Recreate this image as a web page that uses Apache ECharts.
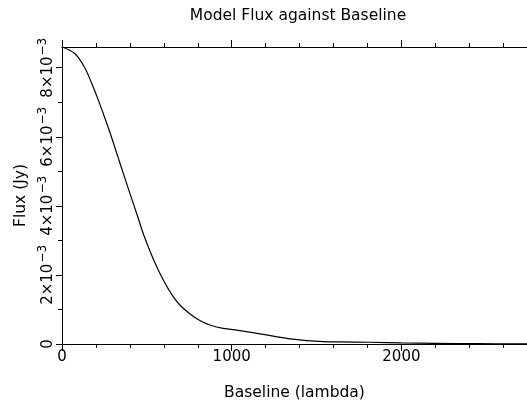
<!DOCTYPE html>
<html>
<head>
<meta charset="utf-8">
<script src="https://cdn.jsdelivr.net/npm/echarts@6/dist/echarts.min.js"></script>
<style>
html,body{margin:0;padding:0;background:#fff;}
#chart{width:527px;height:409px;}
</style>
</head>
<body>
<div id="chart"></div>
<script>
// Data
var baseline = [0, 75, 134, 173, 212, 252, 291, 330, 370, 405, 440, 480, 537, 596, 655, 700, 755, 812, 871, 950, 1048, 1147, 1245, 1343, 1442, 1540, 1638, 1815, 2000, 2200, 2450, 2740];
var flux = [0.00860, 0.00841, 0.00800, 0.00757, 0.00709, 0.00655, 0.00600, 0.00541, 0.00481, 0.00429, 0.00378, 0.00318, 0.00247, 0.00186, 0.00137, 0.00110, 0.00087, 0.00068, 0.00055, 0.00045, 0.00039, 0.00031, 0.00023, 0.00015, 0.00010, 0.00007, 0.00006, 0.00005, 0.00003, 0.00002, 0.00001, 0.000005];
var xMajorTicks = [0, 1000, 2000];
var xMinorTicks = [200, 400, 600, 800, 1200, 1400, 1600, 1800, 2200, 2400, 2600];
var yMajorTicks = [0, 0.002, 0.004, 0.006, 0.008];
var yMinorTicks = [0.001, 0.003, 0.005, 0.007];
var xMin = 0, xMax = 2740, yMin = 0, yMax = 0.0086;

var FONT = 'DejaVu Sans';
var lineStyle = {color: '#000', width: 1};

function xAxisDef(pos, ticks, len, labels, showLine) {
  return {
    type: 'value', position: pos, min: xMin, max: xMax,
    axisLine: {show: showLine, onZero: false, lineStyle: lineStyle},
    axisTick: {show: true, inside: false, length: len, customValues: ticks, lineStyle: lineStyle},
    axisLabel: labels ? {show: true, customValues: ticks, color: '#000', fontFamily: FONT, fontSize: 15, margin: 6,
      formatter: function (v) { return String(Math.round(v)); }} : {show: false},
    splitLine: {show: false}
  };
}
function yAxisDef(ticks, len, labels, showLine) {
  return {
    type: 'value', position: 'left', min: yMin, max: yMax,
    axisLine: {show: showLine, onZero: false, lineStyle: lineStyle},
    axisTick: {show: true, inside: false, length: len, customValues: ticks, lineStyle: lineStyle},
    axisLabel: labels ? {
      show: true, customValues: ticks, rotate: 90, margin: 6, color: '#000',
      fontFamily: FONT, fontSize: 15,
      formatter: function (v) {
        if (Math.abs(v) < 1e-12) return '{b|0}';
        var m = Math.round(v * 1000);
        return '{b|' + m + '×10}{s|−3}';
      },
      rich: {
        b: {fontFamily: FONT, fontSize: 15, color: '#000', verticalAlign: 'bottom'},
        s: {fontFamily: FONT, fontSize: 12, color: '#000', verticalAlign: 'top', padding: [0, 0, 7, 1]}
      }
    } : {show: false},
    splitLine: {show: false}
  };
}

var chart = echarts.init(document.getElementById('chart'), null, {renderer: 'canvas'});
chart.setOption({
  animation: false,
  backgroundColor: '#fff',
  title: {
    text: 'Model Flux against Baseline', left: 293, top: 3, textAlign: 'center',
    textStyle: {fontFamily: FONT, fontSize: 15.5, fontWeight: 'normal', color: '#000'}
  },
  grid: {left: 62, top: 47, right: 0, bottom: 65, containLabel: false},
  xAxis: [
    Object.assign(xAxisDef('bottom', xMajorTicks, 7, true, true), {
      name: 'Baseline (lambda)', nameLocation: 'middle', nameGap: 41,
      nameTextStyle: {fontFamily: FONT, fontSize: 15.5, color: '#000'}
    }),
    xAxisDef('bottom', xMinorTicks, 4, false, false),
    xAxisDef('top', xMajorTicks, 7, false, true),
    xAxisDef('top', xMinorTicks, 4, false, false)
  ],
  yAxis: [
    Object.assign(yAxisDef(yMajorTicks, 6, true, true), {
      name: 'Flux (Jy)', nameLocation: 'middle', nameGap: 30, nameRotate: 90,
      nameTextStyle: {fontFamily: FONT, fontSize: 15.5, color: '#000'}
    }),
    yAxisDef(yMinorTicks, 4, false, false)
  ],
  series: [{
    type: 'line', xAxisIndex: 0, yAxisIndex: 0,
    data: baseline.map(function (x, i) { return [x, flux[i]]; }),
    smooth: 0.35, showSymbol: false, symbol: 'none',
    lineStyle: {color: '#000', width: 1.2},
    clip: true
  }]
});
</script>
</body>
</html>
